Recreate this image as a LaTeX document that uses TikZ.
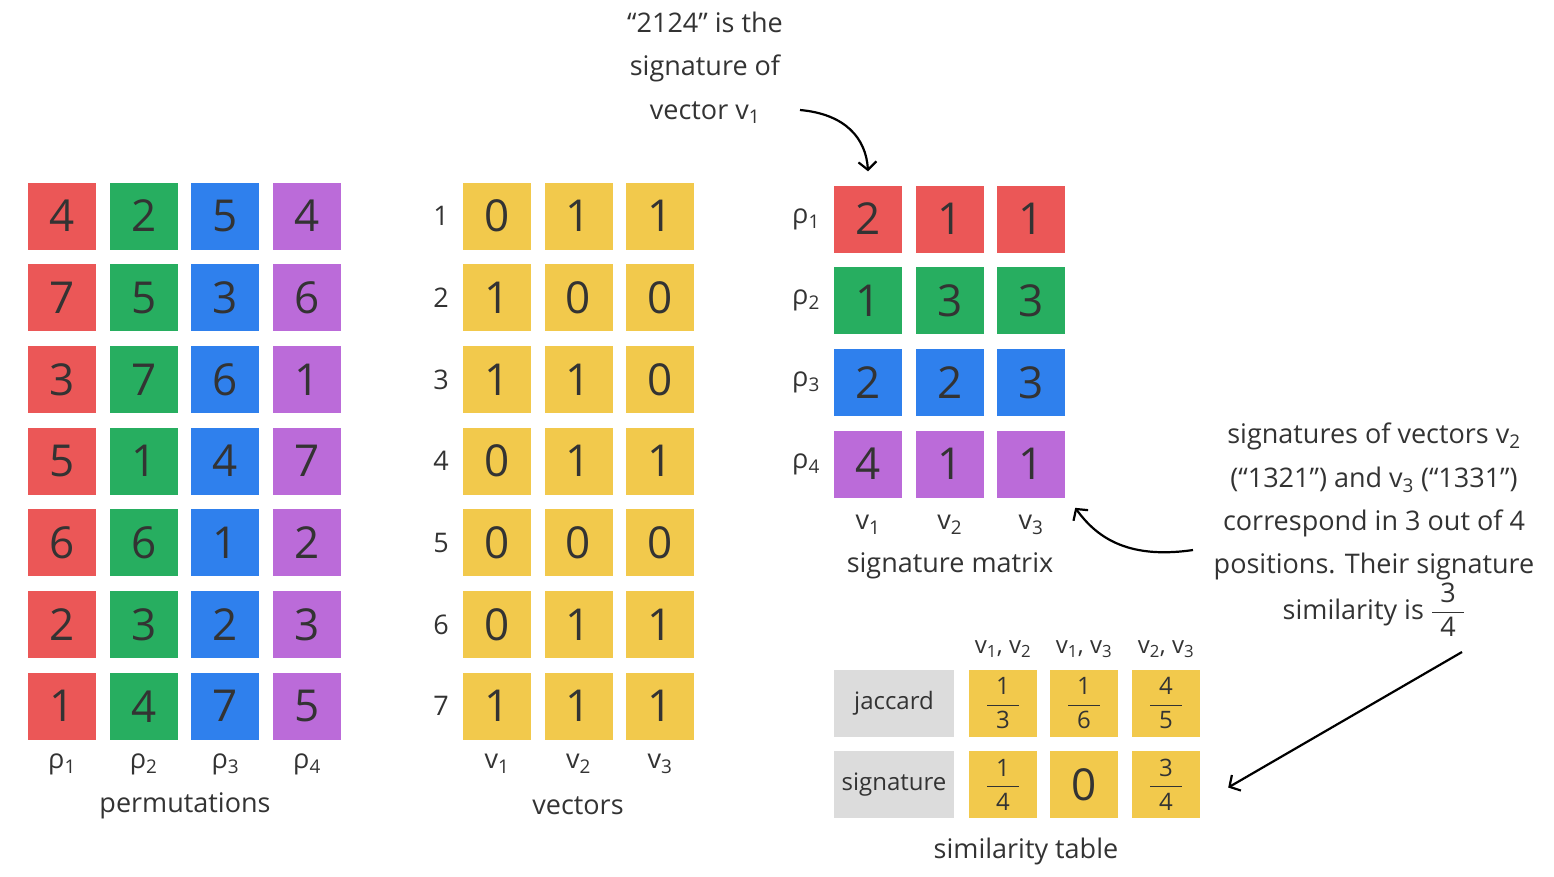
\documentclass[tikz,border=0pt]{standalone}
\usepackage{fontspec}
\setmainfont{Open Sans}
\usepackage{tikz}
\usetikzlibrary{arrows.meta}

\definecolor{ink}{HTML}{333333}
\definecolor{cred}{HTML}{EB5757}
\definecolor{cgreen}{HTML}{27AE60}
\definecolor{cblue}{HTML}{2F80ED}
\definecolor{cpurple}{HTML}{BB6BD9}
\definecolor{cyellow}{HTML}{F2C94C}
\definecolor{cgray}{HTML}{DCDCDC}

\newcommand{\frc}[2]{$\displaystyle{\hbox to 32pt{\hfil#1\hfil}\above1.2pt\hbox to 32pt{\hfil#2\hfil}}$}

\begin{document}
\begin{tikzpicture}[x=1pt,y=-1pt,
	cell/.style={minimum width=68pt,minimum height=67pt,inner sep=0pt,text=ink,font=\fontsize{44}{44}\selectfont},
	lbl/.style={text=ink,font=\fontsize{27}{32}\selectfont},
	note/.style={text=ink,font=\fontsize{27}{43.3}\selectfont,align=center,anchor=base},
	arr/.style={line width=2.2pt,-{Straight Barb[length=8pt,width=18pt]}}]

	\useasboundingbox (0,0) rectangle (1554,876);

	% permutations
	\foreach \r/\a/\b/\c/\d in {1/4/2/5/4,2/7/5/3/6,3/3/7/6/1,4/5/1/4/7,5/6/6/1/2,6/2/3/2/3,7/1/4/7/5}{
		\node[cell,fill=cred] (p\r1) at (62,{216+81.7*(\r-1)}) {\a};
		\node[cell,fill=cgreen] (p\r2) at (143.7,{216+81.7*(\r-1)}) {\b};
		\node[cell,fill=cblue] (p\r3) at (225.4,{216+81.7*(\r-1)}) {\c};
		\node[cell,fill=cpurple] (p\r4) at (307,{216+81.7*(\r-1)}) {\d};
	}
	\foreach \c/\x in {1/62,2/143.7,3/225.4,4/307}
		\node[lbl] (rho\c) at (\x,764) {ρ\textsubscript{\c}};
	\node[lbl] (perm) at (185,806) {permutations};

	% vectors
	\foreach \r/\a/\b/\c in {1/0/1/1,2/1/0/0,3/1/1/0,4/0/1/1,5/0/0/0,6/0/1/1,7/1/1/1}{
		\node[lbl] (row\r) at (441,{216+81.7*(\r-1)}) {\r};
		\node[cell,fill=cyellow] (v\r1) at (497,{216+81.7*(\r-1)}) {\a};
		\node[cell,fill=cyellow] (v\r2) at (578.5,{216+81.7*(\r-1)}) {\b};
		\node[cell,fill=cyellow] (v\r3) at (660,{216+81.7*(\r-1)}) {\c};
	}
	\foreach \c/\x in {1/497,2/578.5,3/660}
		\node[lbl] (vec\c) at (\x,764) {v\textsubscript{\c}};
	\node[lbl] (vecs) at (578,806) {vectors};

	% signature matrix
	\foreach \r/\col/\a/\b/\c in {1/cred/2/1/1,2/cgreen/1/3/3,3/cblue/2/2/3,4/cpurple/4/1/1}{
		\node[lbl] (srho\r) at (806,{219+81.7*(\r-1)}) {ρ\textsubscript{\r}};
		\node[cell,fill=\col] (s\r1) at (868,{219+81.7*(\r-1)}) {\a};
		\node[cell,fill=\col] (s\r2) at (949.7,{219+81.7*(\r-1)}) {\b};
		\node[cell,fill=\col] (s\r3) at (1031,{219+81.7*(\r-1)}) {\c};
	}
	\foreach \c/\x in {1/868,2/949.7,3/1031}
		\node[lbl] (svec\c) at (\x,525) {v\textsubscript{\c}};
	\node[lbl] (smat) at (950,566) {signature matrix};

	% similarity table
	\node[lbl,font=\fontsize{24}{30}\selectfont] (h12) at (1003,649) {v\textsubscript{1}, v\textsubscript{2}};
	\node[lbl,font=\fontsize{24}{30}\selectfont] (h13) at (1084,649) {v\textsubscript{1}, v\textsubscript{3}};
	\node[lbl,font=\fontsize{24}{30}\selectfont] (h23) at (1166,649) {v\textsubscript{2}, v\textsubscript{3}};
	\node[cell,fill=cgray,minimum width=120pt,font=\fontsize{24}{30}\selectfont] (jac) at (894,703) {jaccard};
	\node[cell,fill=cgray,minimum width=120pt,font=\fontsize{24}{30}\selectfont] (sig) at (894,784.5) {signature};
	\node[cell,fill=cyellow,font=\fontsize{24}{30}\selectfont] (t11) at (1003,703) {\frc{1}{3}};
	\node[cell,fill=cyellow,font=\fontsize{24}{30}\selectfont] (t12) at (1084,703) {\frc{1}{6}};
	\node[cell,fill=cyellow,font=\fontsize{24}{30}\selectfont] (t13) at (1166,703) {\frc{4}{5}};
	\node[cell,fill=cyellow,font=\fontsize{24}{30}\selectfont] (t21) at (1003,784.5) {\frc{1}{4}};
	\node[cell,fill=cyellow] (t22) at (1084,784.5) {0};
	\node[cell,fill=cyellow,font=\fontsize{24}{30}\selectfont] (t23) at (1166,784.5) {\frc{3}{4}};
	\node[lbl] (stab) at (1026,851) {similarity table};

	% notes
	\node[note] (topnote) at (705,119) {“2124” is the\\signature of\\vector v\textsubscript{1}};
	\node[note] (signote) at (1374,619) {signatures of vectors v\textsubscript{2}\\(“1321”) and v\textsubscript{3} (“1331”)\\correspond in 3 out of 4\\positions. Their signature\\[2pt]similarity is \frc{3}{4}};

	\coordinate (topfrom) at (800,110);
	\coordinate (sigfrom) at (1193,550);
	\coordinate (simfrom) at (1462,652);
	\draw[arr] (topfrom) .. controls (845,114) and (866,138) .. ([yshift=14pt]s11.north);
	\draw[arr] (sigfrom) .. controls (1125,560) and (1095,535) .. ([shift={(10pt,-10pt)}]s43.south east);
	\draw[arr] (simfrom) -- ([xshift=28pt,yshift=-3pt]t23.east);

\end{tikzpicture}
\end{document}
